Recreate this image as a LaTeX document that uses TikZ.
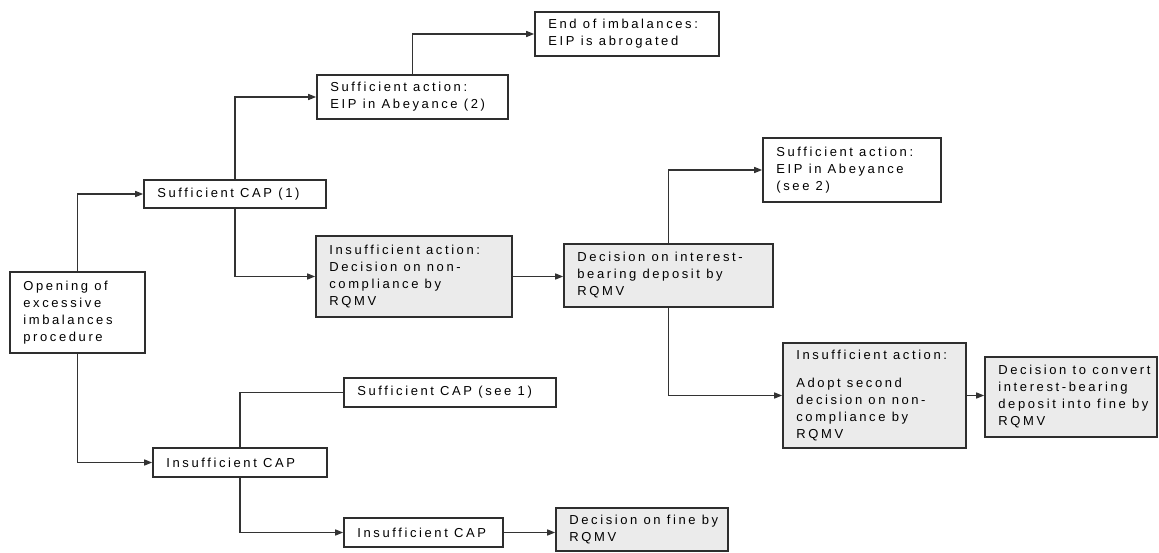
\documentclass[tikz,border=0pt]{standalone}
\usepackage{fontspec}
\setmainfont{Liberation Sans}[LetterSpace=20]
\usetikzlibrary{arrows.meta}

\definecolor{boxline}{HTML}{2E2E2E}
\definecolor{wireline}{HTML}{333333}
\definecolor{boxgray}{HTML}{EBEBEB}

\tikzset{
  box/.style={draw=boxline, line width=1.6pt, fill=white, inner sep=0pt},
  graybox/.style={box, fill=boxgray},
  txt/.style={anchor=west, align=left, inner sep=0pt,
              font=\fontsize{13pt}{17pt}\selectfont},
  wire/.style={draw=wireline, line width=1.3pt},
  arr/.style={wire, -{Triangle[length=8pt,width=6pt]}},
}

% \flowbox{name}{style}{x1}{y1}{x2}{y2}{text}: box by its corners, text set inside at the left
\newcommand{\flowbox}[7]{%
  \node[#2, minimum width={#5-#3}, minimum height={#6-#4}] (#1) at ({(#3+#5)/2},{(#4+#6)/2}) {};
  \node[txt] (#1-t) at ([xshift=14pt]#1.west) {#7};
}

\begin{document}
\begin{tikzpicture}[x=1pt,y=-1pt]
\useasboundingbox (0,0) rectangle (1159,553);

% boxes
\flowbox{open}{box}{10}{272}{145}{353}{Opening of\\excessive\\imbalances\\procedure}
\flowbox{suf1}{box}{144}{180}{326}{208}{Sufficient CAP (1)}
\flowbox{sa2}{box}{317}{75}{508}{119}{Sufficient action:\\EIP in Abeyance (2)}
\flowbox{endi}{box}{535}{12}{719}{56}{End of imbalances:\\EIP is abrogated}
\flowbox{ia1}{graybox}{316}{236}{512}{317}{Insufficient action:\\Decision on non-\\compliance by\\RQMV}
\flowbox{dib}{graybox}{564}{244}{773}{307}{Decision on interest-\\bearing deposit by\\RQMV}
\flowbox{sa2b}{box}{763}{138}{941}{202}{Sufficient action:\\EIP in Abeyance\\(see 2)}
\flowbox{ia2}{graybox}{783}{343}{966}{448}{Insufficient action:\\[11pt]Adopt second\\decision on non-\\compliance by\\RQMV}
\flowbox{dtc}{graybox}{985}{357}{1157}{437}{Decision to convert\\interest-bearing\\deposit into fine by\\RQMV}
\flowbox{see1}{box}{344}{378}{556}{407}{Sufficient CAP (see 1)}
\flowbox{ins1}{box}{153}{448}{327}{477}{Insufficient CAP}
\flowbox{ins2}{box}{344}{518}{503}{547}{Insufficient CAP}
\flowbox{fine}{graybox}{556}{508}{728}{551}{Decision on fine by\\RQMV}

% connectors
\draw[arr] (open.north) |- (suf1.west);
\draw[arr] (open.south) |- (ins1.west);
\draw[arr] (suf1.north) |- (sa2.west);
\draw[arr] (suf1.south) |- (ia1.west);
\draw[arr] (sa2.north) |- (endi.west);
\draw[arr] (ia1.east) -- (ia1.east -| dib.west);
\draw[arr] (dib.north) |- (sa2b.west);
\draw[arr] (dib.south) |- (ia2.west);
\draw[arr] (ia2.east) -- (ia2.east -| dtc.west);
\draw[wire] (ins1.north) |- (see1.west);
\draw[arr] (ins1.south) |- (ins2.west);
\draw[arr] (ins2.east) -- (ins2.east -| fine.west);
\end{tikzpicture}
\end{document}
